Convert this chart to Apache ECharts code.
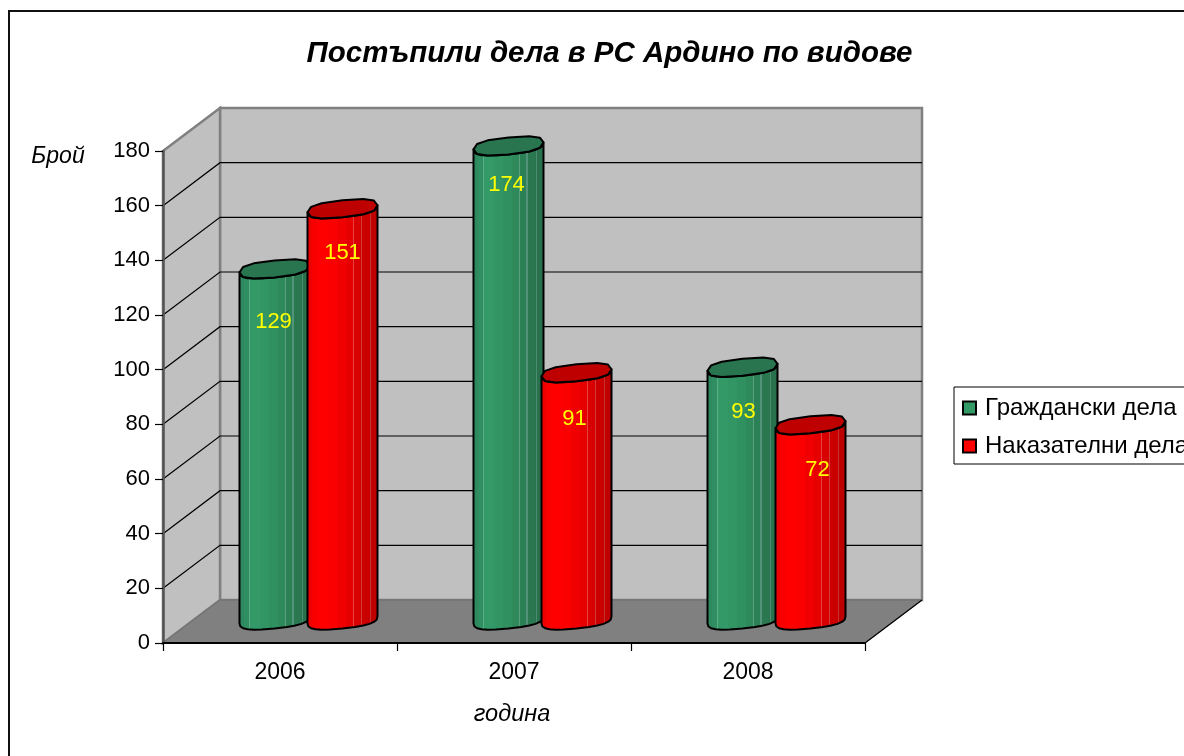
<!DOCTYPE html>
<html>
<head>
<meta charset="utf-8">
<script src="https://cdn.jsdelivr.net/npm/echarts@6/dist/echarts.min.js"></script>
<style>
html, body { margin: 0; padding: 0; background: #fff; overflow: hidden; }
#chart { width: 1184px; height: 756px; }
</style>
</head>
<body>
<div id="chart"></div>
<script>
var years = ["2006", "2007", "2008"];
var civilCases = [129, 174, 93];
var criminalCases = [151, 91, 72];
var valueTicks = [0, 20, 40, 60, 80, 100, 120, 140, 160, 180];

// data labels were placed by hand in the original: [shift right, drop below the cap]
var civilLabelNudge = [[-1, 53], [-2, 39], [1, 45]];
var criminalLabelNudge = [[0, 44], [-2, 46], [7, 45]];

var DEPTH_X = 57, DEPTH_Y = 43;
var BAR_W = 70, BAR_STEP = 68;
var FONT = '"Liberation Sans", Arial, sans-serif';

// faceted look of the cylinders
function facets(stops) {
  var list = [];
  stops.forEach(function (s, i) {
    var end = i + 1 < stops.length ? stops[i + 1][0] : 1;
    list.push({ offset: s[0], color: s[1] });
    list.push({ offset: end, color: s[1] });
  });
  return { type: "linear", x: 0, y: 0, x2: 1, y2: 0, colorStops: list };
}

var greenBody = facets([
  [0, "#2e8a5e"], [0.07, "#308f62"], [0.14, "#339966"], [0.15, "#5aae86"], [0.165, "#339966"],
  [0.3, "#329564"], [0.42, "#30905f"], [0.55, "#2e895b"], [0.64, "#2d8558"], [0.65, "#5c9f7e"],
  [0.665, "#2c8056"], [0.74, "#2b7b53"], [0.75, "#52937a"], [0.765, "#2a7750"], [0.87, "#29744e"],
  [0.88, "#4c8c70"], [0.895, "#28714c"]
]);
var redBody = facets([
  [0, "#ee0000"], [0.07, "#f80000"], [0.14, "#ff0000"], [0.3, "#fa0000"], [0.42, "#f00000"],
  [0.55, "#e60000"], [0.64, "#de0000"], [0.65, "#e84040"], [0.665, "#d80000"], [0.74, "#d00000"],
  [0.75, "#d63a3a"], [0.765, "#ca0000"], [0.87, "#c40000"], [0.88, "#c83030"], [0.895, "#bf0000"]
]);

// outline of the cap: slightly squared ellipse, tilted up to the right
function capPoints(cx, cy, from, to) {
  var pts = [], n = 12;
  for (var i = 0; i <= n; i++) {
    var t = from + (to - from) * i / n;
    var c = Math.cos(t), s = Math.sin(t);
    var x = Math.sign(c) * Math.pow(Math.abs(c), 0.75);
    var y = Math.sign(s) * Math.pow(Math.abs(s), 0.75);
    pts.push([cx + x * BAR_W / 2, cy + y * 8.5 - x * 3.5]);
  }
  return pts;
}

function barRenderer(side, body, cap, nudge) {
  return function (params, api) {
    var top = api.coord([api.value(0), api.value(1)]);
    var base = api.coord([api.value(0), 0]);
    var cx = top[0] + DEPTH_X / 2 + side * BAR_STEP / 2;
    var cyTop = top[1] - DEPTH_Y / 2;
    var cyBase = base[1] - DEPTH_Y / 2 - 1.5;
    var lower = capPoints(cx, cyBase, Math.PI, 0);
    var upper = capPoints(cx, cyTop, 0, Math.PI);
    var shift = nudge[params.dataIndex];
    return {
      type: "group",
      children: [
        {
          type: "polygon",
          shape: { points: lower.concat(upper) },
          style: { fill: body, stroke: "#000", lineWidth: 2, lineJoin: "round" }
        },
        {
          type: "polygon",
          shape: { points: capPoints(cx, cyTop, 0, Math.PI * 2) },
          style: { fill: cap, stroke: "#000", lineWidth: 2, lineJoin: "round" }
        },
        {
          type: "text",
          x: cx + shift[0],
          y: cyTop + shift[1],
          style: {
            text: String(api.value(1)),
            fill: "#ffff00",
            font: "22px " + FONT,
            align: "center",
            verticalAlign: "middle"
          }
        }
      ]
    };
  };
}

// back wall, side wall, floor and their grid lines
function renderWalls(params, api) {
  var cs = params.coordSys;
  var x0 = cs.x, x1 = cs.x + cs.width;
  var y0 = api.coord([0, 0])[1], y1 = api.coord([0, 180])[1];
  var dx = DEPTH_X, dy = DEPTH_Y;
  var edge = { stroke: "#808080", lineWidth: 2.5, lineJoin: "round" };
  var children = [
    { type: "polygon", shape: { points: [[x0 + dx, y1 - dy], [x1 + dx, y1 - dy], [x1 + dx, y0 - dy], [x0 + dx, y0 - dy]] },
      style: { fill: "#c0c0c0", stroke: edge.stroke, lineWidth: edge.lineWidth } },
    { type: "polygon", shape: { points: [[x0, y1], [x0 + dx, y1 - dy], [x0 + dx, y0 - dy], [x0, y0]] },
      style: { fill: "#c0c0c0", stroke: edge.stroke, lineWidth: edge.lineWidth } },
    { type: "polygon", shape: { points: [[x0, y0], [x0 + dx, y0 - dy], [x1 + dx, y0 - dy], [x1, y0]] },
      style: { fill: "#808080", stroke: "#6f6f6f", lineWidth: 1 } }
  ];
  valueTicks.forEach(function (v) {
    if (v === 0 || v === 180) return;
    var y = api.coord([0, v])[1];
    children.push({ type: "polyline", shape: { points: [[x0, y], [x0 + dx, y - dy], [x1 + dx, y - dy]] },
      style: { fill: "none", stroke: "#000", lineWidth: 1.2 } });
  });
  // front right edge of the floor
  children.push({ type: "line", shape: { x1: x1, y1: y0, x2: x1 + dx, y2: y0 - dy },
    style: { stroke: "#000", lineWidth: 1.2 } });
  return { type: "group", children: children };
}

var chart = echarts.init(document.getElementById("chart"));
chart.setOption({
  animation: false,
  backgroundColor: "#fff",
  textStyle: { fontFamily: FONT, color: "#000" },
  title: {
    text: "Постъпили дела в РС Ардино по видове",
    left: 604.5,
    top: 34,
    textAlign: "center",
    textStyle: { fontFamily: FONT, fontSize: 29.5, fontWeight: "bold", fontStyle: "italic", color: "#000" }
  },
  grid: { left: 163, right: 319, top: 151, bottom: 113 },
  legend: {
    data: ["Граждански дела", "Наказателни дела"],
    orient: "vertical",
    left: 954,
    top: 387,
    padding: [9, 20, 6, 8],
    itemWidth: 13,
    itemHeight: 13,
    itemGap: 14,
    icon: "rect",
    borderColor: "#000",
    borderWidth: 1,
    textStyle: { fontFamily: FONT, fontSize: 24, color: "#000", padding: [0, 0, 0, 4] }
  },
  xAxis: {
    type: "category",
    data: years,
    name: "година",
    nameLocation: "middle",
    nameGap: 60,
    nameTextStyle: { fontSize: 23.5, fontStyle: "italic", color: "#000", padding: [0, 4, 0, 0] },
    axisLine: { show: true, lineStyle: { color: "#000", width: 2 } },
    axisTick: { show: true, alignWithLabel: false, length: 8, lineStyle: { color: "#000", width: 1.2 } },
    axisLabel: { fontSize: 23, color: "#000", margin: 18 }
  },
  yAxis: {
    type: "value",
    min: 0,
    max: 180,
    interval: 20,
    name: "Брой",
    nameLocation: "end",
    nameRotate: 0,
    nameGap: -17,
    nameTextStyle: { fontSize: 23, fontStyle: "italic", color: "#000", align: "center", padding: [0, 0, 0, -210] },
    splitLine: { show: false },
    axisLine: { show: true, lineStyle: { color: "#555", width: 2.5 } },
    axisTick: { show: true, length: 8, lineStyle: { color: "#000", width: 1.2 } },
    axisLabel: { fontSize: 22, color: "#000", margin: 13 }
  },
  graphic: [{
    type: "rect",
    silent: true,
    z: -1,
    shape: { x: 9, y: 11, width: 1220, height: 800 },
    style: { fill: "none", stroke: "#111", lineWidth: 2 }
  }],
  series: [
    { type: "custom", name: "walls", z: -1, silent: true, renderItem: renderWalls, data: [[0, 0]], encode: { x: 0, y: 1 } },
    {
      type: "custom", name: "Граждански дела", z: 2,
      renderItem: barRenderer(-1, greenBody, "#28754f", civilLabelNudge),
      itemStyle: { color: "#339966", borderColor: "#000", borderWidth: 1.5 },
      encode: { x: 0, y: 1 },
      data: civilCases.map(function (v, i) { return [i, v]; })
    },
    {
      type: "custom", name: "Наказателни дела", z: 3,
      renderItem: barRenderer(1, redBody, "#bf0000", criminalLabelNudge),
      itemStyle: { color: "#ff0000", borderColor: "#000", borderWidth: 1.5 },
      encode: { x: 0, y: 1 },
      data: criminalCases.map(function (v, i) { return [i, v]; })
    }
  ]
});
</script>
</body>
</html>
